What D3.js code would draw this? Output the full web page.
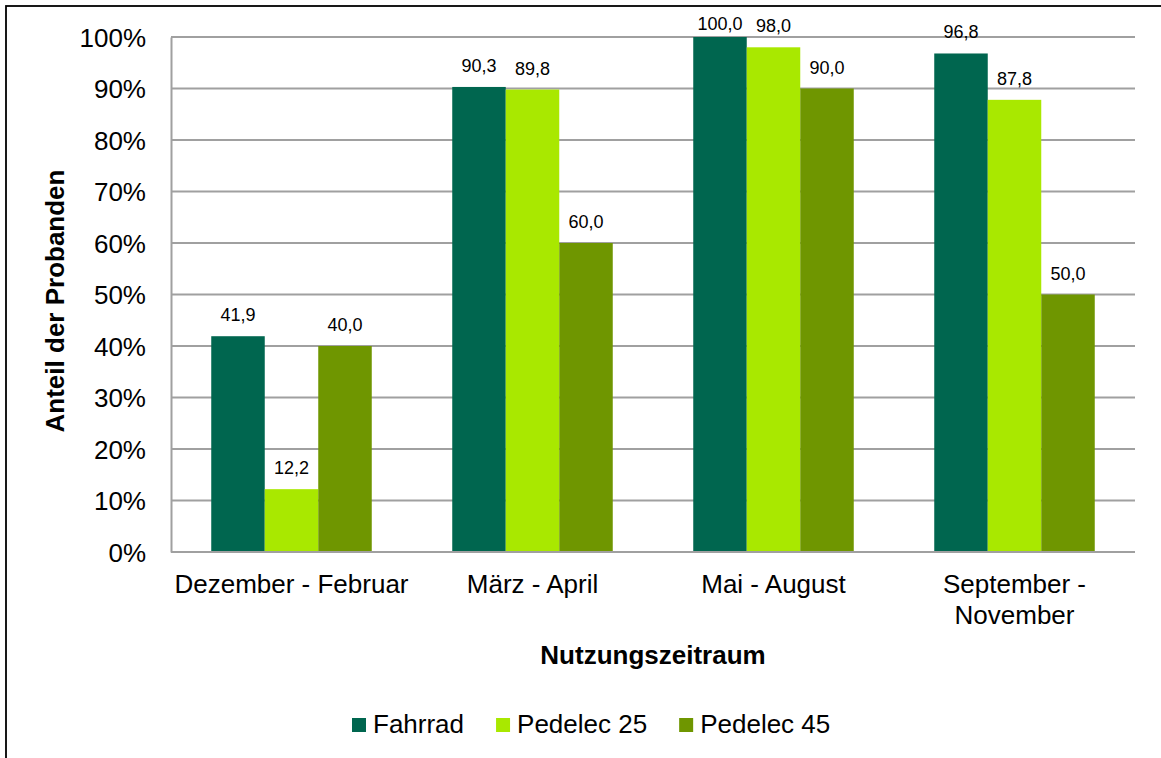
<!DOCTYPE html>
<html>
<head>
<meta charset="utf-8">
<script src="https://cdn.jsdelivr.net/npm/d3@7"></script>
<style>
  body { margin: 0; background: #fff; }
  text { font-family: "Liberation Sans", Arial, sans-serif; fill: #000; }
</style>
</head>
<body>
<div class="center"></div>
<script>
// chart data
const categories = [["Dezember - Februar"], ["März - April"], ["Mai - August"], ["September -", "November"]];
const seriesNames = ["Fahrrad", "Pedelec 25", "Pedelec 45"];
const fahrrad = [41.9, 90.3, 100.0, 96.8];
const pedelec25 = [12.2, 89.8, 98.0, 87.8];
const pedelec45 = [40.0, 60.0, 90.0, 50.0];
const yTicks = [0, 10, 20, 30, 40, 50, 60, 70, 80, 90, 100];
const colors = ["#00664f", "#a9e800", "#6f9600"];

const W = 1161, H = 758;
const margin = {top: 37, right: 26, bottom: 206, left: 171};
const width = W - margin.left - margin.right;
const height = H - margin.top - margin.bottom;

const svg = d3.select(".center").append("svg")
              .attr("width", W)
              .attr("height", H);

// outer frame (runs off the right/bottom edge like the source)
svg.append("rect")
   .attr("x", 6).attr("y", 6)
   .attr("width", W + 20).attr("height", H + 20)
   .attr("fill", "none")
   .attr("stroke", "#000")
   .attr("stroke-width", 1.8);

const g = svg.append("g").attr("transform", `translate(${margin.left},${margin.top})`);

const x0 = d3.scaleBand().domain(d3.range(categories.length)).range([0, width])
             .paddingInner(0.334).paddingOuter(0.167);
const x1 = d3.scaleBand().domain(d3.range(seriesNames.length)).range([0, x0.bandwidth()]);
const y = d3.scaleLinear().domain([0, 100]).range([height, 0]);

// gridlines
g.selectAll(".grid")
 .data(yTicks)
 .enter().append("line")
 .attr("x1", 0).attr("x2", width)
 .attr("y1", d => y(d)).attr("y2", d => y(d))
 .attr("stroke", "#a0a0a0")
 .attr("stroke-width", 2);

// y axis
const yAxis = d3.axisLeft(y).tickValues(yTicks).tickSize(0).tickPadding(25).tickFormat(d => d + "%");
const ya = g.append("g").call(yAxis);
ya.select(".domain").attr("stroke", "#a0a0a0").attr("stroke-width", 2);
ya.selectAll("text")
  .style("font-family", "Liberation Sans, Arial, sans-serif")
  .style("font-size", "26px")
  .attr("dy", "0.35em");

const data = [fahrrad, pedelec25, pedelec45];

// bars
data.forEach((vals, s) => {
  g.selectAll(".bar" + s)
   .data(vals)
   .enter().append("rect")
   .attr("x", (d, i) => x0(i) + x1(s))
   .attr("y", d => y(d))
   .attr("width", x1.bandwidth())
   .attr("height", d => height - y(d))
   .attr("fill", colors[s]);

  g.selectAll(".lab" + s)
   .data(vals)
   .enter().append("text")
   .attr("x", (d, i) => x0(i) + x1(s) + x1.bandwidth() / 2)
   .attr("y", d => Math.max(y(d) - 15, -7))
   .attr("text-anchor", "middle")
   .style("font-size", "18px")
   .text(d => d.toFixed(1).replace(".", ","));
});

// bottom axis line
g.append("line")
 .attr("x1", 0).attr("x2", width)
 .attr("y1", height).attr("y2", height)
 .attr("stroke", "#a0a0a0").attr("stroke-width", 2);

// category labels
const cat = g.selectAll(".cat")
             .data(categories)
             .enter().append("text")
             .attr("text-anchor", "middle")
             .style("font-size", "26px");
cat.selectAll("tspan")
   .data((d, i) => d.map(t => ({t, i})))
   .enter().append("tspan")
   .attr("x", d => x0(d.i) + x0.bandwidth() / 2)
   .attr("y", (d, j) => height + 41 + j * 31)
   .text(d => d.t);

// axis titles
g.append("text")
 .text("Nutzungszeitraum")
 .attr("x", width / 2)
 .attr("y", height + 112)
 .attr("text-anchor", "middle")
 .style("font-size", "26px")
 .style("font-weight", "700");

svg.append("text")
 .text("Anteil der Probanden")
 .attr("transform", "rotate(-90)")
 .attr("x", -301)
 .attr("y", 64)
 .attr("text-anchor", "middle")
 .style("font-size", "26px")
 .style("font-weight", "700");

// legend
const legend = svg.append("g").attr("transform", "translate(352,718)");
let lx = 0;
seriesNames.forEach((name, i) => {
  const item = legend.append("g").attr("transform", `translate(${lx},0)`);
  item.append("rect").attr("width", 14).attr("height", 14).attr("fill", colors[i]);
  const t = item.append("text").attr("x", 21).attr("y", 15)
                .style("font-size", "26px").text(name);
  lx += 21 + t.node().getComputedTextLength() + 32;
});
</script>
</body>
</html>
